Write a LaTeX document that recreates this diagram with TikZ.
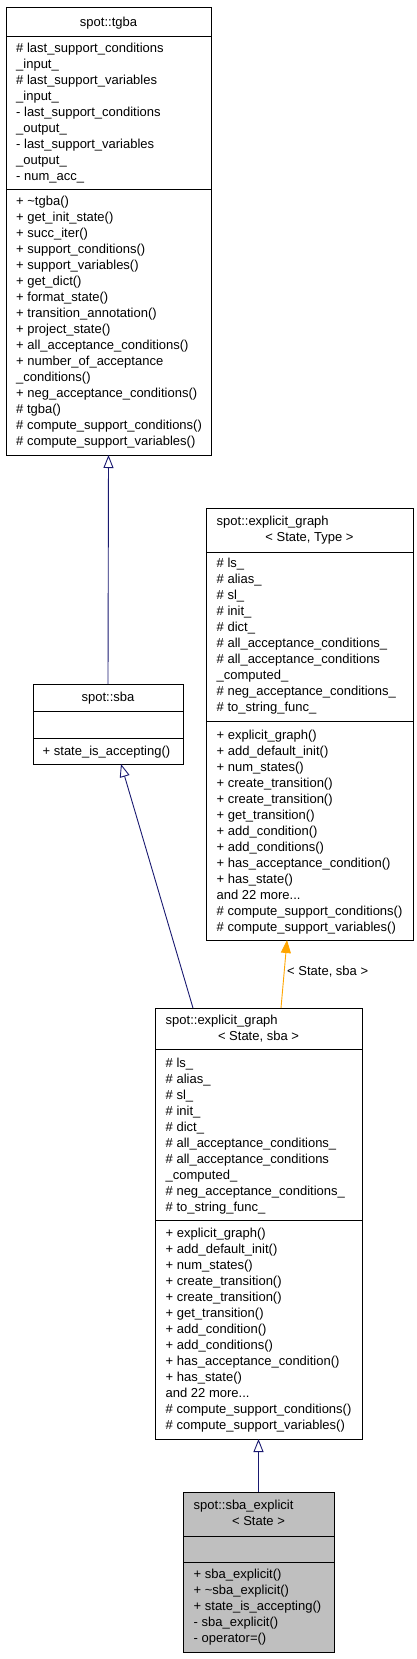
\documentclass[tikz,border=0pt]{standalone}
\usepackage{fontspec}
\setmainfont{Liberation Sans}
\usetikzlibrary{arrows.meta,calc}
\definecolor{navyline}{HTML}{191970}
\definecolor{inhorange}{HTML}{FFA500}
\definecolor{boxgray}{HTML}{BFBFBF}
\newcommand\mydots{...}
\tikzset{
  classbox/.style={draw=black, line width=0.9pt, inner sep=0pt, outer sep=0pt},
  sepline/.style={draw=black, line width=0.9pt},
  mtext/.style={anchor=base west, inner sep=0pt, font=\fontsize{13}{16}\selectfont},
  ctext/.style={anchor=base, inner sep=0pt, font=\fontsize{13}{16}\selectfont},
  inherit/.style={draw=navyline, line width=0.9pt, -{Triangle[open, length=13pt, width=10pt]}},
  usesarrow/.style={draw=inhorange, line width=0.9pt, -{Triangle[length=13pt, width=10pt, fill=inhorange]}},
}
\begin{document}
\begin{tikzpicture}[x=1pt,y=-1pt]
\useasboundingbox (0,0) rectangle (417,1659);

% ---- class boxes ----
\node[classbox, minimum width=205pt, minimum height=448pt] (tgba) at (108.5,231) {};
\node[classbox, minimum width=150pt, minimum height=80pt] (sba) at (108,724) {};
\node[classbox, minimum width=207pt, minimum height=432pt] (egT) at (309.5,724) {};
\node[classbox, minimum width=207pt, minimum height=431pt] (egS) at (258.5,1223.5) {};
\node[classbox, fill=boxgray, minimum width=151pt, minimum height=160pt] (sbaE) at (258.5,1572) {};

% ---- separators ----
\draw[sepline] (tgba.west |- 0,36) -- (tgba.east |- 0,36);
\draw[sepline] (tgba.west |- 0,189) -- (tgba.east |- 0,189);
\draw[sepline] (sba.west |- 0,711) -- (sba.east |- 0,711);
\draw[sepline] (sba.west |- 0,738) -- (sba.east |- 0,738);
\draw[sepline] (egT.west |- 0,552) -- (egT.east |- 0,552);
\draw[sepline] (egT.west |- 0,721) -- (egT.east |- 0,721);
\draw[sepline] (egS.west |- 0,1049) -- (egS.east |- 0,1049);
\draw[sepline] (egS.west |- 0,1220) -- (egS.east |- 0,1220);
\draw[sepline] (sbaE.west |- 0,1536) -- (sbaE.east |- 0,1536);
\draw[sepline] (sbaE.west |- 0,1562) -- (sbaE.east |- 0,1562);

% ---- spot::tgba ----
\node[ctext] (tgbaT) at (108.5,26.5) {spot::tgba};
\foreach \t [count=\k from 0] in {
  \# last\_support\_conditions, \_input\_, \# last\_support\_variables, \_input\_,
  - last\_support\_conditions, \_output\_, - last\_support\_variables, \_output\_,
  - num\_acc\_}
  \node[mtext] (tgbaA\k) at (16,52.5+16*\k) {\t};
\foreach \t [count=\k from 0] in {
  + \textasciitilde tgba(), + get\_init\_state(), + succ\_iter(), + support\_conditions(),
  + support\_variables(), + get\_dict(), + format\_state(), + transition\_annotation(),
  + project\_state(), + all\_acceptance\_conditions(), + number\_of\_acceptance,
  \_conditions(), + neg\_acceptance\_conditions(), \# tgba(),
  \# compute\_support\_conditions(), \# compute\_support\_variables()}
  \node[mtext] (tgbaM\k) at (16,205.5+16*\k) {\t};

% ---- spot::sba ----
\node[ctext] (sbaT) at (108,701.5) {spot::sba};
\node[mtext] (sbaM0) at (42.5,755.5) {+ state\_is\_accepting()};

% ---- spot::explicit_graph< State, Type > ----
\node[mtext] (egTT1) at (216.5,525.5) {spot::explicit\_graph};
\node[ctext] (egTT2) at (309.5,541.5) {< State, Type >};
\foreach \t [count=\k from 0] in {
  \# ls\_, \# alias\_, \# sl\_, \# init\_, \# dict\_, \# all\_acceptance\_conditions\_,
  \# all\_acceptance\_conditions, \_computed\_, \# neg\_acceptance\_conditions\_,
  \# to\_string\_func\_}
  \node[mtext] (egTA\k) at (216.5,567.5+16*\k) {\t};
\foreach \t [count=\k from 0] in {
  + explicit\_graph(), + add\_default\_init(), + num\_states(), + create\_transition(),
  + create\_transition(), + get\_transition(), + add\_condition(), + add\_conditions(),
  + has\_acceptance\_condition(), + has\_state(), and 22 more\mydots,
  \# compute\_support\_conditions(), \# compute\_support\_variables()}
  \node[mtext] (egTM\k) at (216.5,739.5+16*\k) {\t};

% ---- spot::explicit_graph< State, sba > ----
\node[mtext] (egST1) at (165.5,1024.5) {spot::explicit\_graph};
\node[ctext] (egST2) at (258.5,1040.5) {< State, sba >};
\foreach \t [count=\k from 0] in {
  \# ls\_, \# alias\_, \# sl\_, \# init\_, \# dict\_, \# all\_acceptance\_conditions\_,
  \# all\_acceptance\_conditions, \_computed\_, \# neg\_acceptance\_conditions\_,
  \# to\_string\_func\_}
  \node[mtext] (egSA\k) at (165.5,1067.5+16*\k) {\t};
\foreach \t [count=\k from 0] in {
  + explicit\_graph(), + add\_default\_init(), + num\_states(), + create\_transition(),
  + create\_transition(), + get\_transition(), + add\_condition(), + add\_conditions(),
  + has\_acceptance\_condition(), + has\_state(), and 22 more\mydots,
  \# compute\_support\_conditions(), \# compute\_support\_variables()}
  \node[mtext] (egSM\k) at (165.5,1237+16*\k) {\t};

% ---- spot::sba_explicit< State > ----
\node[mtext] (sbaET1) at (193.5,1509.5) {spot::sba\_explicit};
\node[ctext] (sbaET2) at (258.5,1525.5) {< State >};
\foreach \t [count=\k from 0] in {
  + sba\_explicit(), + \textasciitilde sba\_explicit(), + state\_is\_accepting(),
  - sba\_explicit(), - operator=()}
  \node[mtext] (sbaEM\k) at (193.5,1578.5+16*\k) {\t};

% ---- connectors ----
\draw[inherit] (sba.north) -- (tgba.south);
\draw[inherit] ($(egS.north west)+(38,0)$) -- ($(sba.south west)+(88,0)$);
\draw[usesarrow] ($(egS.north west)+(126,0)$) -- ($(egT.south west)+(81,0)$);
\node[mtext, anchor=west] (usesLbl) at (287,972) {< State, sba >};
\draw[inherit] (sbaE.north) -- (egS.south);
\end{tikzpicture}
\end{document}
